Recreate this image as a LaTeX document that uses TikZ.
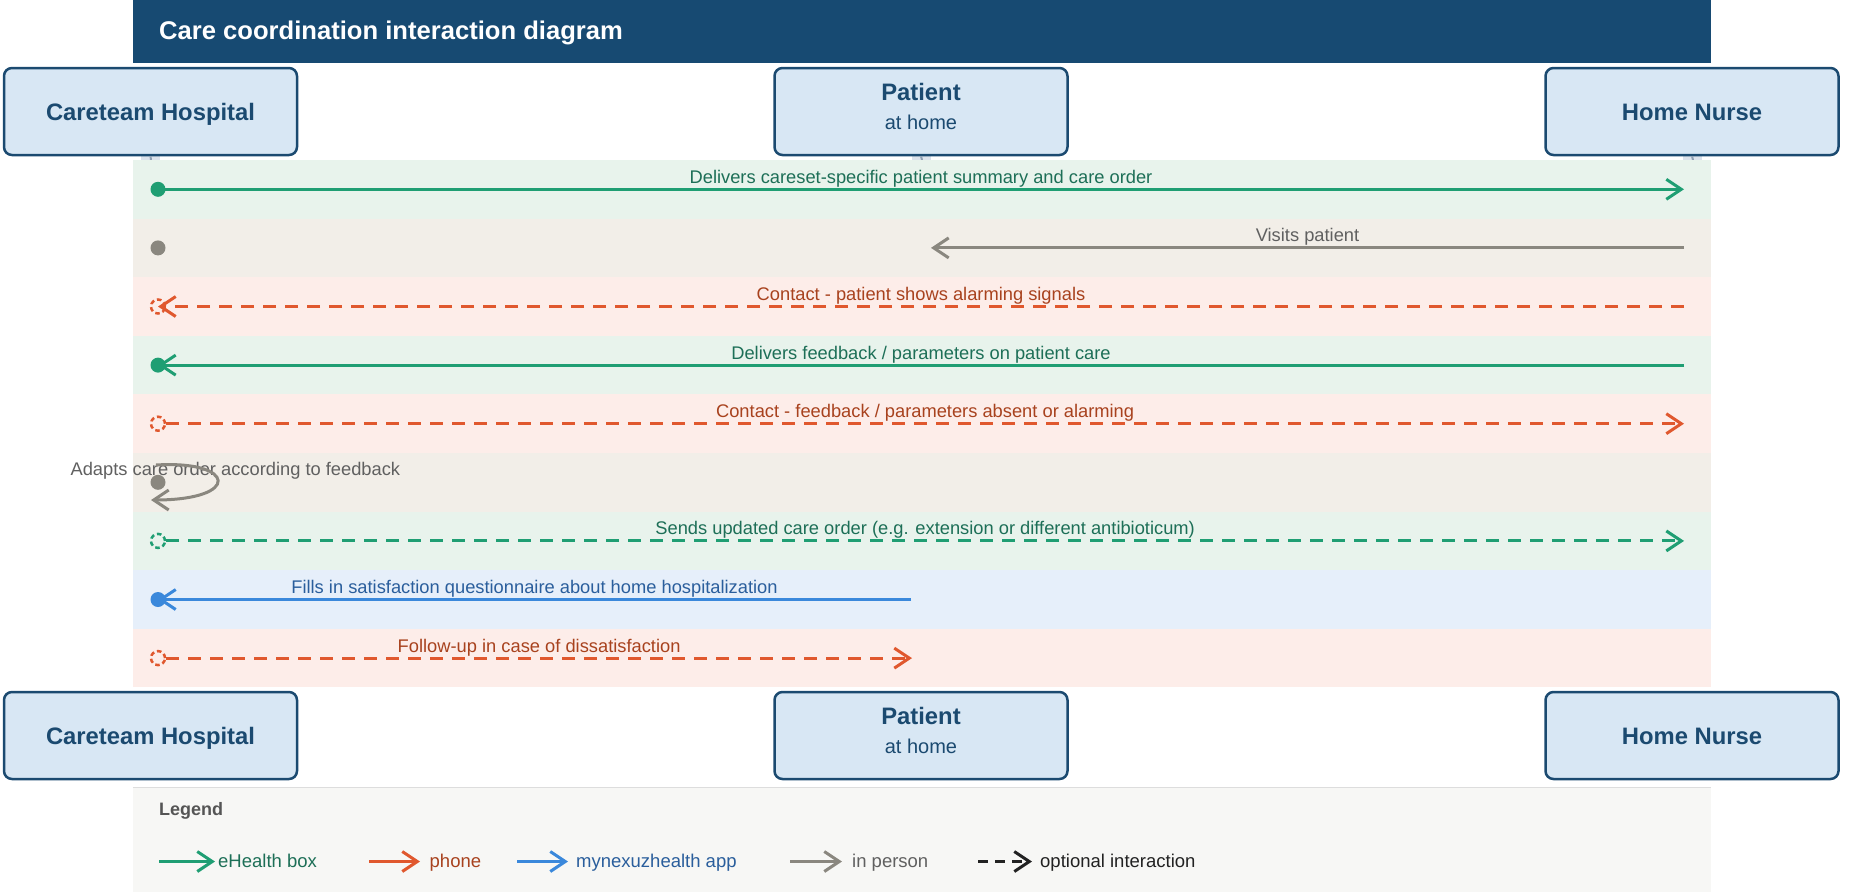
\documentclass[tikz,border=0pt]{standalone}
\usepackage{fontspec}
\setmainfont{Liberation Sans}
\usetikzlibrary{arrows.meta}
\definecolor{titlebg}{HTML}{174A72}
\definecolor{boxfill}{HTML}{D8E7F4}
\definecolor{boxline}{HTML}{1B4A70}
\definecolor{gline}{HTML}{1F9E73}
\definecolor{gtext}{HTML}{1D6F57}
\definecolor{oline}{HTML}{E0582E}
\definecolor{otext}{HTML}{A8421E}
\definecolor{kline}{HTML}{8A877F}
\definecolor{ktext}{HTML}{606060}
\definecolor{bline}{HTML}{3A88DB}
\definecolor{btext}{HTML}{2A5E9C}
\definecolor{gband}{HTML}{E8F3EC}
\definecolor{kband}{HTML}{F2EEE8}
\definecolor{oband}{HTML}{FDEDE9}
\definecolor{bband}{HTML}{E6EFFA}
\definecolor{legbg}{HTML}{F7F7F5}
\definecolor{legline}{HTML}{DDDDDD}
\definecolor{lifeln}{HTML}{8FA0B3}
\definecolor{lifehd}{HTML}{DCE3EC}
\definecolor{legtitle}{HTML}{555555}
\definecolor{optk}{HTML}{222222}
\begin{document}
\begin{tikzpicture}[x=1pt,y=-1pt,
  actor/.style={draw=boxline, fill=boxfill, line width=2.5pt, rounded corners=8pt,
    minimum width=293pt, minimum height=87pt, inner sep=0pt, text=boxline,
    font=\fontsize{23.8}{28}\selectfont\bfseries, text height=17pt, text depth=0pt},
  msg/.style={line width=3pt, -{Straight Barb[length=15pt,width=20pt]}},
  opt/.style={msg, dash pattern=on 13pt off 9pt},
  lbl/.style={font=\fontsize{18.3}{22}\selectfont, anchor=base, yshift=6pt, inner sep=0pt},
  sdot/.style={circle, fill=#1, minimum size=15pt, inner sep=0pt},
  odot/.style={circle, draw=#1, dash pattern=on 4.5pt off 3pt, line width=2.5pt, minimum size=14pt, inner sep=0pt},
  legtxt/.style={font=\fontsize{18.5}{22}\selectfont, anchor=base west, inner sep=0pt},
]
\useasboundingbox (0,0) rectangle (1871,892);
% title
\fill[titlebg] (132.5,0) rectangle (1711,63);
\node[anchor=base west, inner sep=0pt, text=white, font=\fontsize{25.6}{30}\selectfont\bfseries] (title) at (159,39) {Care coordination interaction diagram};
% lifeline heads (mostly hidden by bands)
\fill[lifehd] (141,154) rectangle (160,160);
\fill[lifehd] (912,154) rectangle (931,160);
\fill[lifehd] (1683,154) rectangle (1702,160);
% actors top
\node[actor] (cT) at (150.5,111.5) {Careteam Hospital};
\node[actor] (pT) at (921,111.5) {};
\node[anchor=base, inner sep=0pt, text=boxline, font=\fontsize{23.8}{28}\selectfont\bfseries] (pTa) at (921,100.7) {Patient};
\node[anchor=base, inner sep=0pt, text=boxline, font=\fontsize{20}{24}\selectfont] (pTb) at (921,129.3) {at home};
\node[actor] (nT) at (1692,111.5) {Home Nurse};
% actors bottom
\node[actor] (cB) at (150.5,735.5) {Careteam Hospital};
\node[actor] (pB) at (921,735.5) {};
\node[anchor=base, inner sep=0pt, text=boxline, font=\fontsize{23.8}{28}\selectfont\bfseries] (pBa) at (921,724.7) {Patient};
\node[anchor=base, inner sep=0pt, text=boxline, font=\fontsize{20}{24}\selectfont] (pBb) at (921,753.3) {at home};
\node[actor] (nB) at (1692,735.5) {Home Nurse};
% lifelines (hidden by bands except just below the top boxes)
\coordinate (cL) at (151,160); \coordinate (pL) at (922,160); \coordinate (nL) at (1693,160);
\draw[lifeln, line width=2pt] (cT.south) -- (cL);
\draw[lifeln, line width=2pt] (pT.south) -- (pL);
\draw[lifeln, line width=2pt] (nT.south) -- (nL);
% bands
\fill[gband] (132.5,160) rectangle (1711,218.6);
\fill[kband] (132.5,218.6) rectangle (1711,277.2);
\fill[oband] (132.5,277.2) rectangle (1711,335.8);
\fill[gband] (132.5,335.8) rectangle (1711,394.4);
\fill[oband] (132.5,394.4) rectangle (1711,453);
\fill[kband] (132.5,453) rectangle (1711,511.6);
\fill[gband] (132.5,511.6) rectangle (1711,570.2);
\fill[bband] (132.5,570.2) rectangle (1711,628.8);
\fill[oband] (132.5,628.8) rectangle (1711,687.4);
% row 1
\node[sdot=gline] (d1) at (158,189.3) {};
\coordinate (e1) at (1684,189.3);
\draw[msg, gline] (d1.center) -- node[lbl, text=gtext] {Delivers careset-specific patient summary and care order} (e1);
% row 2
\node[sdot=kline] (d2) at (158,247.9) {};
\coordinate (s2) at (1684,247.9);
\coordinate (e2) at (931,247.9);
\draw[msg, kline] (s2) -- node[lbl, text=ktext] {Visits patient} (e2);
% row 3
\node[odot=oline] (d3) at (158,306.5) {};
\coordinate (s3) at (1684,306.5);
\draw[opt, oline] (s3) -- node[lbl, text=otext] {Contact - patient shows alarming signals} (d3.center);
% row 4
\node[sdot=gline] (d4) at (158,365.1) {};
\coordinate (s4) at (1684,365.1);
\draw[msg, gline] (s4) -- node[lbl, text=gtext] {Delivers feedback / parameters on patient care} (d4.center);
% row 5
\node[odot=oline] (d5) at (158,423.7) {};
\coordinate (e5) at (1684,423.7);
\draw[opt, oline] (d5.east) -- node[lbl, text=otext] {Contact - feedback / parameters absent or alarming} (e5);
% row 6 (self message)
\node[sdot=kline] (d6) at (158,482.3) {};
\node[legtxt, font=\fontsize{18.3}{22}\selectfont, text=ktext] (t6) at (70.4,475) {Adapts care order according to feedback};
\coordinate (l6a) at (156,465);
\coordinate (l6b) at (151,500);
\draw[msg, kline] (l6a) .. controls (236,460) and (242,500) .. (l6b);
% row 7
\node[odot=gline] (d7) at (158,540.9) {};
\coordinate (e7) at (1684,540.9);
\draw[opt, gline] (d7.east) -- node[lbl, text=gtext] {Sends updated care order (e.g. extension or different antibioticum)} (e7);
% row 8
\node[sdot=bline] (d8) at (158,599.5) {};
\coordinate (s8) at (911,599.5);
\draw[msg, bline] (s8) -- node[lbl, text=btext] {Fills in satisfaction questionnaire about home hospitalization} (d8.center);
% row 9
\node[odot=oline] (d9) at (158,658.1) {};
\coordinate (e9) at (912,658.1);
\draw[opt, oline] (d9.east) -- node[lbl, text=otext] {Follow-up in case of dissatisfaction} (e9);
% legend
\fill[legbg] (132.5,787.5) rectangle (1711,892);
\draw[legline, line width=1.5pt] (132.5,787.5) -- (1711,787.5);
\node[anchor=base west, inner sep=0pt, text=legtitle, font=\fontsize{18}{21}\selectfont\bfseries] (legT) at (159,815) {Legend};
\coordinate (g1a) at (159,861.5); \coordinate (g1b) at (215,861.5);
\draw[msg, gline] (g1a) -- (g1b);
\node[legtxt, text=gtext] (lt1) at (218,867.5) {eHealth box};
\coordinate (g2a) at (369,861.5); \coordinate (g2b) at (420,861.5);
\draw[msg, oline] (g2a) -- (g2b);
\node[legtxt, text=otext] (lt2) at (429.5,867.5) {phone};
\coordinate (g3a) at (517,861.5); \coordinate (g3b) at (568,861.5);
\draw[msg, bline] (g3a) -- (g3b);
\node[legtxt, text=btext] (lt3) at (576,867.5) {mynexuzhealth app};
\coordinate (g4a) at (790,861.5); \coordinate (g4b) at (842,861.5);
\draw[msg, kline] (g4a) -- (g4b);
\node[legtxt, text=ktext] (lt4) at (852,867.5) {in person};
\coordinate (g5a) at (978,861.5); \coordinate (g5b) at (1032,861.5);
\draw[msg, optk, dash pattern=on 10pt off 7pt] (g5a) -- (g5b);
\node[legtxt, text=optk] (lt5) at (1040,867.5) {optional interaction};
\end{tikzpicture}
\end{document}
